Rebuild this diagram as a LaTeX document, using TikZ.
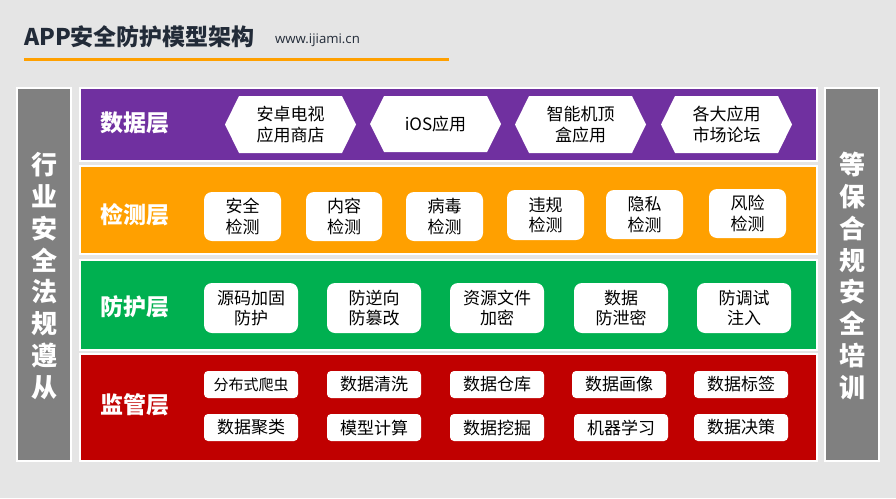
\documentclass[tikz,border=0pt]{standalone}
\usepackage{fontspec}
\setmainfont{Noto Sans CJK SC}
\newfontfamily\latinf{Open Sans}
\definecolor{bgc}{HTML}{E5E5E5}
\definecolor{purp}{HTML}{7030A0}
\definecolor{orng}{HTML}{FFA000}
\definecolor{gren}{HTML}{00B050}
\definecolor{redd}{HTML}{C00000}
\definecolor{ink}{HTML}{222B38}
\definecolor{panel}{HTML}{808080}
\tikzset{
  band/.style={draw=white,line width=2pt},
  sidetext/.style={text=white,align=center,inner sep=0pt,font=\fontsize{26}{31.8}\selectfont\bfseries},
  layertext/.style={text=white,inner sep=0pt,font=\fontsize{23}{26}\selectfont\bfseries},
  itemtext/.style={text=black,align=center,inner sep=0pt,font=\fontsize{17}{20.5}\selectfont},
  card/.style={itemtext,fill=white,rounded corners=8pt},
  smallcard/.style={card,rounded corners=4pt},
  hexfill/.style={fill=white}
}
\newcommand{\itembox}[6]{\node[card,minimum width={(#4-#2)*1pt},minimum height={(#5-#3)*1pt}] (#1) at ({(#2+#4)/2},{(#3+#5)/2}) {#6};}
\newcommand{\smallbox}[6]{\node[smallcard,minimum width={(#4-#2)*1pt},minimum height={(#5-#3)*1pt}] (#1) at ({(#2+#4)/2},{(#3+#5)/2}) {#6};}
\newcommand{\hexbox}[6]{\fill[hexfill] (#2,{(#3+#5)/2}) -- ({#2+14},#3) -- ({#4-14},#3) -- (#4,{(#3+#5)/2}) -- ({#4-14},#5) -- ({#2+14},#5) -- cycle;
  \node[itemtext] (#1) at ({(#2+#4)/2},{(#3+#5)/2}) {#6};}
\begin{document}
\begin{tikzpicture}[x=1pt,y=-1pt]
\useasboundingbox (0,0) rectangle (896,498);
\fill[bgc] (0,0) rectangle (896,498);
% title
\node[anchor=west,inner sep=0pt,text=ink,font=\fontsize{23}{26}\selectfont\bfseries] (title) at (24,37) {APP安全防护模型架构};
\node[anchor=west,inner sep=0pt,text=ink,font=\latinf\fontsize{13.2}{16}\selectfont] (url) at (275,40.5) {www.ijiami.cn};
\fill[orng] (24,58) rectangle (449,61);
% panels
\path[band,fill=panel] (17,88) rectangle (71,461);
\path[band,fill=panel] (825,88) rectangle (879,461);
\node[sidetext] (left) at (44,276) {行\\业\\安\\全\\法\\规\\遵\\从};
\node[sidetext] (right) at (852,276) {等\\保\\合\\规\\安\\全\\培\\训};
% layers
\path[band,fill=purp] (80,88) rectangle (817,161);
\path[band,fill=orng] (80,166) rectangle (817,254);
\path[band,fill=gren] (80,260) rectangle (817,350);
\path[band,fill=redd] (80,354) rectangle (817,461);
\node[layertext] (l1) at (135,123) {数据层};
\node[layertext] (l2) at (135,215) {检测层};
\node[layertext] (l3) at (135,307) {防护层};
\node[layertext] (l4) at (135,405) {监管层};
% data layer
\hexbox{h1}{225}{96}{356}{153}{安卓电视\\应用商店}
\hexbox{h2}{370}{96}{501}{152}{iOS应用}
\hexbox{h3}{515}{96}{646}{153}{智能机顶\\盒应用}
\hexbox{h4}{661}{96}{792}{153}{各大应用\\市场论坛}
% detection layer
\itembox{d1}{204}{192}{281}{241}{安全\\检测}
\itembox{d2}{306}{192}{382}{241}{内容\\检测}
\itembox{d3}{406}{192}{483}{241}{病毒\\检测}
\itembox{d4}{507}{190}{584}{240}{违规\\检测}
\itembox{d5}{606}{190}{683}{239}{隐私\\检测}
\itembox{d6}{709}{189}{786}{238}{风险\\检测}
% protection layer
\itembox{p1}{204}{283}{298}{333}{源码加固\\防护}
\itembox{p2}{327}{283}{421}{333}{防逆向\\防篡改}
\itembox{p3}{450}{283}{544}{333}{资源文件\\加密}
\itembox{p4}{574}{283}{668}{333}{数据\\防泄密}
\itembox{p5}{697}{283}{791}{333}{防调试\\注入}
% supervision layer
\smallbox{s1}{204}{371}{298}{398}{\fontsize{15}{18}\selectfont 分布式爬虫}
\smallbox{s2}{327}{371}{421}{398}{数据清洗}
\smallbox{s3}{450}{371}{544}{398}{数据仓库}
\smallbox{s4}{572}{371}{666}{398}{数据画像}
\smallbox{s5}{694}{371}{788}{398}{数据标签}
\smallbox{s6}{204}{414}{298}{441}{数据聚类}
\smallbox{s7}{327}{414}{421}{441}{模型计算}
\smallbox{s8}{450}{414}{544}{441}{数据挖掘}
\smallbox{s9}{574}{414}{668}{441}{机器学习}
\smallbox{s10}{694}{414}{788}{441}{数据决策}
\end{tikzpicture}
\end{document}
